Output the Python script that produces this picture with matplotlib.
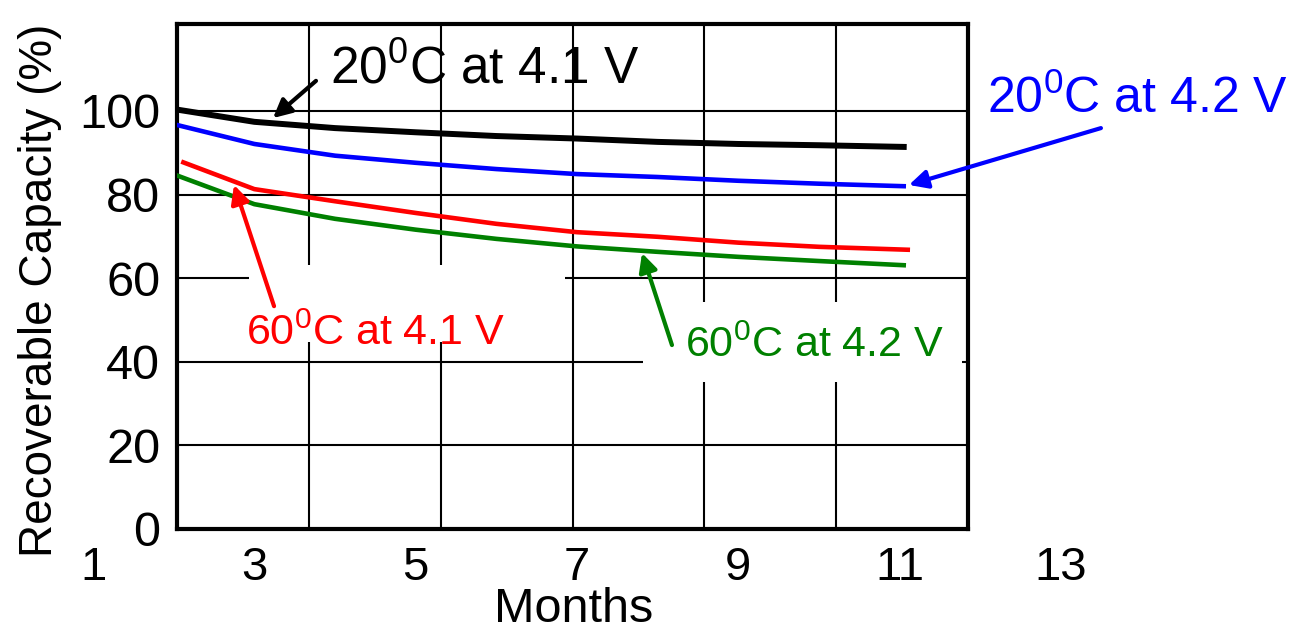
import matplotlib
matplotlib.use("Agg")
import matplotlib.pyplot as plt
import numpy as np
from matplotlib.patches import Rectangle

plt.rcParams['font.family'] = ['Liberation Sans', 'DejaVu Sans']
plt.rcParams['mathtext.default'] = 'regular'

# data (months, recoverable capacity in %)
months = [2.05, 3, 4, 5, 6, 7, 8, 9, 10, 11.05]
months_red = [2.12, 3, 4, 5, 6, 7, 8, 9, 10, 11.1]
cap_20c_41v = [100.3, 97.4, 95.9, 94.9, 94.0, 93.4, 92.6, 92.1, 91.8, 91.4]
cap_20c_42v = [96.6, 92.1, 89.3, 87.6, 86.1, 84.9, 84.2, 83.3, 82.6, 82.0]
cap_60c_41v = [87.7, 81.3, 78.4, 75.6, 73.0, 71.0, 69.9, 68.5, 67.5, 66.8]
cap_60c_42v = [84.5, 77.7, 74.2, 71.6, 69.4, 67.6, 66.3, 65.1, 64.1, 63.1]

x_labels = [1, 3, 5, 7, 9, 11, 13]
y_ticks = [0, 20, 40, 60, 80, 100]

fig = plt.figure(figsize=(12.93, 6.34), dpi=100)
ax = fig.add_axes([177 / 1293, 105 / 634, 791 / 1293, 505 / 634])

xlo, xhi = 2.041, 11.847
ax.set_xlim(xlo, xhi)
ax.set_ylim(0, 120.8)

# grid: 6 equal columns, rows every 20 %
ax.set_xticks(np.linspace(xlo, xhi, 7)[1:-1])
ax.set_yticks(y_ticks)
ax.tick_params(axis='x', length=0, labelbottom=False)
ax.tick_params(axis='y', length=0, labelsize=35, pad=12)
ax.set_axisbelow(True)
ax.grid(True, color='black', lw=1.5)
for sp in ax.spines.values():
    sp.set_linewidth(3)

# white boxes behind the lower labels (they hide the grid there)
ax.add_patch(Rectangle((2.934, 44.7), 6.851 - 2.934, 63.2 - 44.7,
                       fc='white', ec='none', zorder=1))
ax.add_patch(Rectangle((7.818, 35.2), 11.772 - 7.818, 54.3 - 35.2,
                       fc='white', ec='none', zorder=1))

ax.plot(months, cap_20c_41v, color='black', lw=4.3, zorder=3)
ax.plot(months, cap_20c_42v, color='#0000ff', lw=3.3, zorder=3)
ax.plot(months_red, cap_60c_41v, color='#ff0000', lw=3.3, zorder=3)
ax.plot(months, cap_60c_42v, color='#008000', lw=3.3, zorder=3)

# month labels do not line up with the grid columns in the original
for m in x_labels:
    ax.text(m, -0.101, str(m), transform=ax.get_xaxis_transform(),
            ha='center', va='baseline', fontsize=34, clip_on=False)
ax.text(0.502, -0.184, 'Months', transform=ax.transAxes,
        ha='center', va='baseline', fontsize=35)
fig.text(40 / 1293, 1 - 290 / 634, 'Recoverable Capacity (%)', rotation=90,
         ha='center', va='center', fontsize=33)

labels = [
    (r'20$^0$C at 4.1 V', 'black', 37, (3.938, 106.5), (3.764, 107.2), (3.231, 98.3)),
    (r'20$^0$C at 4.2 V', '#0000ff', 36, (12.082, 99.4), (13.495, 95.9), (11.115, 82.3)),
    (r'60$^0$C at 4.1 V', '#ff0000', 31, (2.897, 44.0), (3.244, 53.3), (2.748, 82.3)),
    (r'60$^0$C at 4.2 V', '#008000', 31, (8.338, 41.1), (8.177, 44.0), (7.806, 66.0)),
]
for txt, col, fs, pos, tail, head in labels:
    ax.text(pos[0], pos[1], txt, color=col, fontsize=fs, ha='left',
            va='baseline', zorder=4, clip_on=False)
    ax.annotate('', xy=head, xytext=tail, annotation_clip=False, zorder=4,
                arrowprops=dict(arrowstyle='-|>,head_length=0.5,head_width=0.25',
                                color=col, lw=3, mutation_scale=22,
                                shrinkA=0, shrinkB=0))

fig.savefig('out.png', dpi=100)
